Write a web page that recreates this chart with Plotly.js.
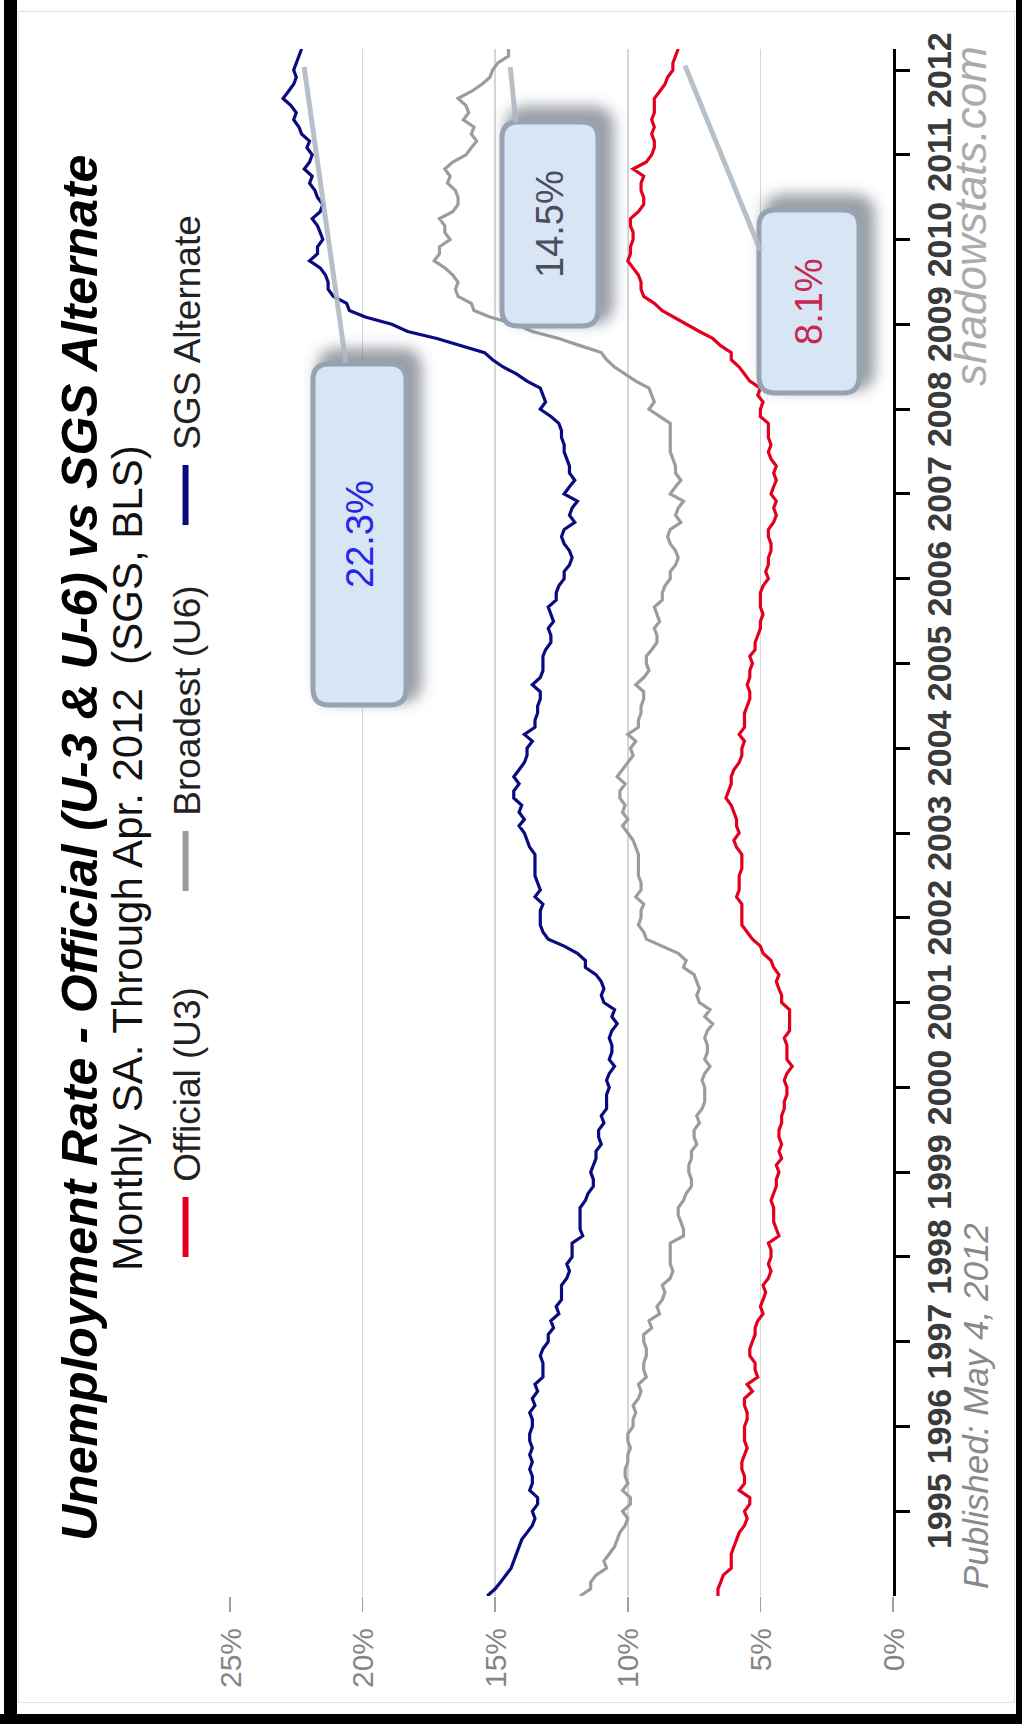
<!DOCTYPE html>
<html>
<head>
<meta charset="utf-8">
<script src="https://cdn.plot.ly/plotly-3.0.1.min.js"></script>
<style>
  html, body { margin: 0; padding: 0; background: #fff; }
  #page { position: relative; width: 1022px; height: 1724px; overflow: hidden; background: #fff; }
  #chart { position: absolute; left: 0; top: 0; width: 1724px; height: 1022px;
           transform-origin: 0 0; transform: translate(0px, 1724px) rotate(-90deg); }
  .frame { position: absolute; background: #000; }
  .inner { position: absolute; left: 18px; top: 11px; right: 7px; bottom: 21px; border: 1px solid #e2e2e2; pointer-events: none; }
</style>
</head>
<body>
<div id="page">
  <div id="chart"></div>
  <div class="inner"></div>
  <div class="frame" style="left:4px;top:0;width:13px;height:1724px"></div>
  <div class="frame" style="left:0;top:1714px;width:1022px;height:10px"></div>
  <div class="frame" style="left:1016px;top:0;width:6px;height:1724px"></div>
</div>
<script>
// monthly values, Jan 1994 .. Apr 2012
var u3 = [
  6.6, 6.6, 6.5, 6.4, 6.1, 6.1, 6.1, 6.0, 5.9, 5.8, 5.6, 5.5,
  5.6, 5.4, 5.4, 5.8, 5.6, 5.6, 5.7, 5.7, 5.6, 5.5, 5.6, 5.6,
  5.6, 5.5, 5.5, 5.6, 5.6, 5.3, 5.5, 5.1, 5.2, 5.2, 5.4, 5.4,
  5.3, 5.2, 5.2, 5.1, 4.9, 5.0, 4.9, 4.8, 4.9, 4.7, 4.6, 4.7,
  4.6, 4.6, 4.7, 4.3, 4.4, 4.5, 4.5, 4.5, 4.6, 4.5, 4.4, 4.4,
  4.3, 4.4, 4.2, 4.3, 4.2, 4.3, 4.3, 4.2, 4.2, 4.1, 4.1, 4.0,
  4.0, 4.1, 4.0, 3.8, 4.0, 4.0, 4.0, 4.1, 3.9, 3.9, 3.9, 3.9,
  4.2, 4.2, 4.3, 4.4, 4.3, 4.5, 4.6, 4.9, 5.0, 5.3, 5.5, 5.7,
  5.7, 5.7, 5.7, 5.9, 5.8, 5.8, 5.8, 5.7, 5.7, 5.7, 5.9, 6.0,
  5.8, 5.9, 5.9, 6.0, 6.1, 6.3, 6.2, 6.1, 6.1, 6.0, 5.8, 5.7,
  5.7, 5.6, 5.8, 5.6, 5.6, 5.6, 5.5, 5.4, 5.4, 5.5, 5.4, 5.4,
  5.3, 5.4, 5.2, 5.2, 5.1, 5.0, 5.0, 4.9, 5.0, 5.0, 5.0, 4.9,
  4.7, 4.8, 4.7, 4.7, 4.6, 4.6, 4.7, 4.7, 4.5, 4.4, 4.5, 4.4,
  4.6, 4.5, 4.4, 4.5, 4.4, 4.6, 4.7, 4.6, 4.7, 4.7, 4.7, 5.0,
  5.0, 4.9, 5.1, 5.0, 5.4, 5.6, 5.8, 6.1, 6.1, 6.5, 6.8, 7.3,
  7.8, 8.3, 8.7, 9.0, 9.4, 9.5, 9.5, 9.6, 9.8, 10.0, 9.9, 9.9,
  9.8, 9.8, 9.9, 9.9, 9.6, 9.4, 9.4, 9.5, 9.5, 9.4, 9.8, 9.3,
  9.1, 9.0, 9.0, 9.1, 9.0, 9.1, 9.0, 9.0, 9.0, 8.8, 8.6, 8.5,
  8.3, 8.3, 8.2, 8.1
];
var u6 = [
  11.8, 11.4, 11.4, 11.2, 10.8, 10.9, 10.7, 10.5, 10.4, 10.3, 10.1, 10.0,
  10.2, 9.9, 9.9, 10.2, 10.0, 10.1, 10.1, 10.0, 10.0, 9.9, 10.0, 10.0,
  9.8, 9.8, 9.7, 9.8, 9.6, 9.5, 9.6, 9.3, 9.4, 9.4, 9.3, 9.3,
  9.4, 9.4, 9.1, 9.2, 8.8, 8.9, 8.7, 8.6, 8.7, 8.4, 8.3, 8.4,
  8.4, 8.4, 8.4, 7.9, 7.9, 8.0, 8.1, 8.1, 7.9, 7.8, 7.6, 7.6,
  7.7, 7.7, 7.6, 7.6, 7.4, 7.5, 7.5, 7.3, 7.4, 7.2, 7.1, 7.1,
  7.1, 7.2, 7.1, 6.9, 7.1, 7.0, 7.0, 7.1, 7.0, 6.8, 7.1, 6.9,
  7.3, 7.4, 7.3, 7.4, 7.5, 7.9, 7.8, 8.1, 8.7, 9.3, 9.4, 9.6,
  9.5, 9.5, 9.4, 9.7, 9.5, 9.5, 9.6, 9.6, 9.6, 9.6, 9.7, 9.8,
  10.0, 10.2, 10.0, 10.2, 10.1, 10.3, 10.3, 10.1, 10.4, 10.2, 10.0, 9.8,
  9.9, 9.7, 10.0, 9.6, 9.6, 9.5, 9.5, 9.4, 9.4, 9.7, 9.4, 9.2,
  9.3, 9.3, 9.1, 8.9, 8.9, 9.0, 8.8, 8.9, 9.0, 8.7, 8.7, 8.6,
  8.4, 8.4, 8.2, 8.1, 8.2, 8.4, 8.5, 8.4, 8.0, 8.2, 8.1, 7.9,
  8.4, 8.2, 8.0, 8.2, 8.2, 8.3, 8.4, 8.4, 8.4, 8.4, 8.4, 8.8,
  9.2, 9.0, 9.1, 9.2, 9.7, 10.1, 10.5, 10.8, 11.0, 11.8, 12.6, 13.6,
  14.2, 15.2, 15.8, 15.9, 16.4, 16.5, 16.4, 16.6, 16.9, 17.3, 17.1, 17.1,
  16.7, 16.9, 16.9, 17.1, 16.6, 16.4, 16.4, 16.5, 16.8, 16.7, 16.9, 16.6,
  16.1, 15.9, 15.7, 15.9, 15.8, 16.2, 16.0, 16.1, 16.4, 15.9, 15.5, 15.2,
  15.1, 14.9, 14.5, 14.5
];
var sgs = [
  15.3, 15.0, 14.8, 14.6, 14.4, 14.3, 14.2, 14.1, 14.0, 13.8, 13.6, 13.5,
  13.6, 13.4, 13.4, 13.7, 13.6, 13.6, 13.7, 13.6, 13.7, 13.6, 13.7, 13.7,
  13.6, 13.6, 13.7, 13.5, 13.6, 13.4, 13.5, 13.2, 13.2, 13.2, 13.3, 13.2,
  13.0, 13.0, 12.8, 12.9, 12.6, 12.7, 12.5, 12.5, 12.5, 12.3, 12.2, 12.3,
  12.1, 12.1, 12.1, 11.7, 11.8, 11.8, 11.8, 11.8, 11.6, 11.5, 11.3, 11.3,
  11.4, 11.3, 11.2, 11.2, 11.0, 11.1, 11.1, 10.9, 11.0, 10.8, 10.8, 10.8,
  10.7, 10.8, 10.7, 10.5, 10.7, 10.6, 10.6, 10.7, 10.6, 10.4, 10.6, 10.5,
  10.9, 11.0, 10.9, 11.0, 11.2, 11.6, 11.6, 11.9, 12.4, 13.0, 13.2, 13.3,
  13.3, 13.3, 13.2, 13.5, 13.3, 13.4, 13.5, 13.5, 13.5, 13.5, 13.7, 13.8,
  13.9, 14.1, 13.9, 14.1, 14.0, 14.3, 14.3, 14.1, 14.3, 14.1, 13.9, 13.8,
  13.8, 13.6, 13.9, 13.5, 13.5, 13.4, 13.4, 13.3, 13.3, 13.6, 13.3, 13.2,
  13.2, 13.2, 13.1, 12.9, 12.9, 13.0, 12.8, 12.9, 13.0, 12.7, 12.7, 12.6,
  12.4, 12.4, 12.2, 12.1, 12.2, 12.4, 12.5, 12.4, 12.0, 12.2, 12.1, 11.9,
  12.4, 12.2, 12.0, 12.2, 12.2, 12.3, 12.4, 12.4, 12.5, 12.5, 12.6, 12.9,
  13.3, 13.1, 13.2, 13.3, 13.8, 14.2, 14.7, 15.1, 15.4, 16.3, 17.2, 18.3,
  18.9, 19.9, 20.5, 20.6, 21.1, 21.3, 21.3, 21.4, 21.6, 22.0, 21.7, 21.7,
  21.5, 21.6, 21.7, 21.9, 21.6, 21.5, 21.7, 21.8, 22.0, 21.9, 22.2, 22.0,
  21.9, 22.1, 22.0, 22.3, 22.4, 22.6, 22.5, 22.7, 23.0, 22.8, 22.6, 22.5,
  22.6, 22.5, 22.4, 22.3
];
var seriesNames = ['Official (U3)', 'Broadest (U6)', 'SGS Alternate'];
var seriesColors = ['#e3001f', '#9c9c9c', '#0a0a80'];
var tickYears = [1995, 1996, 1997, 1998, 1999, 2000, 2001, 2002, 2003,
                 2004, 2005, 2006, 2007, 2008, 2009, 2010, 2011, 2012];
var pctTicks = [0, 5, 10, 15, 20, 25];

// month dates for the series
var months = [];
for (var i = 0; i < u3.length; i++) {
  var y = 1994 + Math.floor(i / 12), m = (i % 12) + 1;
  months.push(y + '-' + (m < 10 ? '0' + m : m) + '-01');
}

var FONT = 'Liberation Sans, Arial, sans-serif';
// plot box in pixels (unrotated)
var L = 128, R = 1675, T = 230, B = 893;
function px(x) { return (x - L) / (R - L); }
function py(y) { return (B - y) / (B - T); }

function roundRect(x0, y0, x1, y1, r) {
  function X(v) { return px(v).toFixed(5); }
  function Y(v) { return py(v).toFixed(5); }
  return 'M' + X(x0 + r) + ',' + Y(y0) + ' L' + X(x1 - r) + ',' + Y(y0) +
    ' Q' + X(x1) + ',' + Y(y0) + ' ' + X(x1) + ',' + Y(y0 + r) +
    ' L' + X(x1) + ',' + Y(y1 - r) +
    ' Q' + X(x1) + ',' + Y(y1) + ' ' + X(x1 - r) + ',' + Y(y1) +
    ' L' + X(x0 + r) + ',' + Y(y1) +
    ' Q' + X(x0) + ',' + Y(y1) + ' ' + X(x0) + ',' + Y(y1 - r) +
    ' L' + X(x0) + ',' + Y(y0 + r) +
    ' Q' + X(x0) + ',' + Y(y0) + ' ' + X(x0 + r) + ',' + Y(y0) + ' Z';
}

var allSeries = [u3, u6, sgs];
var data = [];
allSeries.forEach(function (s, k) {
  data.push({ x: months, y: s, name: seriesNames[k], mode: 'lines', showlegend: false,
    line: { color: seriesColors[k], width: 3.2 } });
});
// legend keys (thicker swatches)
allSeries.forEach(function (s, k) {
  data.push({ x: [null], y: [null], name: '\u00a0' + seriesNames[k], mode: 'lines',
    line: { color: seriesColors[k], width: 6 } });
});

var last = months[months.length - 1];
var callouts = [
  { series: sgs, box: [1019, 313, 1360, 406], color: '#2626e6', base: [1360, 346] },
  { series: u6, box: [1398, 502, 1602, 598], color: '#4a4d5c', base: [1600, 516] },
  { series: u3, box: [1331, 759, 1514, 859], color: '#c8284f', base: [1472, 761] }
];

var shapes = [], annotations = [], blurIdx = [];
callouts.forEach(function (c) {
  var b = c.box;
  blurIdx.push(shapes.length);
  shapes.push({ type: 'path', xref: 'paper', yref: 'paper', layer: 'above',
    path: roundRect(b[0] + 2, b[1] + 4, b[2] + 16, b[3] + 16, 22),
    fillcolor: 'rgba(70,78,92,0.55)', line: { width: 0 } });
  shapes.push({ type: 'path', xref: 'paper', yref: 'paper', layer: 'above',
    path: roundRect(b[0], b[1], b[2], b[3], 16),
    fillcolor: '#d8e5f5', line: { color: '#98a3b1', width: 5 } });
  var v = c.series[c.series.length - 1];
  // pointer from series end to the box
  annotations.push({ x: last, y: v, xref: 'x', yref: 'y', text: '', showarrow: true,
    arrowhead: 0, arrowwidth: 5, arrowcolor: 'rgba(176,185,196,0.9)', standoff: 18,
    axref: 'pixel', ayref: 'pixel',
    ax: c.base[0] - R, ay: c.base[1] - (B - v * (B - T) / 25) });
  annotations.push({ xref: 'paper', yref: 'paper', x: px((b[0] + b[2]) / 2), y: py((b[1] + b[3]) / 2),
    xanchor: 'center', yanchor: 'middle', showarrow: false, text: v.toFixed(1) + '%',
    font: { family: FONT, size: 38, color: c.color } });
});

annotations.push(
  { xref: 'paper', yref: 'paper', x: px(876), y: py(80), xanchor: 'center', yanchor: 'middle', showarrow: false,
    text: 'Unemployment Rate - Official (U-3 & U-6) vs SGS Alternate',
    font: { family: FONT, size: 50, color: '#000', weight: 'bold', style: 'italic' } },
  { xref: 'paper', yref: 'paper', x: px(866), y: py(127), xanchor: 'center', yanchor: 'middle', showarrow: false,
    text: 'Monthly SA. Through Apr. 2012 \u00a0(SGS, BLS)',
    font: { family: FONT, size: 42, color: '#111' } },
  { xref: 'paper', yref: 'paper', x: px(133), y: py(975), xanchor: 'left', yanchor: 'middle', showarrow: false,
    text: 'Published: May 4, 2012',
    font: { family: FONT, size: 35, color: '#8a8a8a', style: 'italic' } },
  { xref: 'paper', yref: 'paper', x: px(1680), y: py(970), xanchor: 'right', yanchor: 'middle', showarrow: false,
    text: 'shadowstats.com',
    font: { family: FONT, size: 44, color: '#ababab', style: 'italic' } }
);

var layout = {
  width: 1724, height: 1022,
  margin: { l: L, r: 1724 - R, t: T, b: 1022 - B },
  paper_bgcolor: '#ffffff', plot_bgcolor: '#ffffff',
  showlegend: true,
  legend: { orientation: 'h', x: px(462), xanchor: 'left', y: py(186), yanchor: 'middle',
    font: { family: FONT, size: 37, color: '#222' }, entrywidth: 291, entrywidthmode: 'pixels',
    itemwidth: 60, bgcolor: 'rgba(0,0,0,0)', traceorder: 'normal' },
  xaxis: {
    type: 'date', range: ['1994-01-01', '2012-04-01'],
    tickvals: tickYears.map(function (y) { return y + '-01-01'; }),
    ticktext: tickYears.map(String),
    showgrid: false, zeroline: false,
    showline: true, linecolor: '#000', linewidth: 3,
    ticks: 'outside', ticklen: 14, tickwidth: 3, tickcolor: '#000',
    tickfont: { family: FONT, size: 34, color: '#3a3a3a', weight: 'bold' }
  },
  yaxis: {
    range: [0, 25], tickvals: pctTicks, ticktext: pctTicks.map(function (p) { return p + '%'; }),
    showgrid: true, gridcolor: '#d6d6d6', gridwidth: 1.5, zeroline: false, showline: false,
    ticks: 'outside', ticklen: 15, tickwidth: 1.5, tickcolor: '#a0a0a0', ticklabelstandoff: 10,
    tickfont: { family: FONT, size: 30, color: '#858585' }
  },
  shapes: shapes,
  annotations: annotations
};

var gd = document.getElementById('chart');
Plotly.newPlot(gd, data, layout, { staticPlot: true, displayModeBar: false }).then(function () {
  // soft drop shadow under the callout boxes
  var svg = gd.querySelector('svg.main-svg');
  var ns = 'http://www.w3.org/2000/svg';
  var defs = svg.querySelector('defs') || svg.insertBefore(document.createElementNS(ns, 'defs'), svg.firstChild);
  var f = document.createElementNS(ns, 'filter');
  f.setAttribute('id', 'boxblur');
  f.setAttribute('x', '-30%'); f.setAttribute('y', '-30%');
  f.setAttribute('width', '160%'); f.setAttribute('height', '160%');
  var g = document.createElementNS(ns, 'feGaussianBlur');
  g.setAttribute('stdDeviation', '7');
  f.appendChild(g);
  defs.appendChild(f);
  gd.querySelectorAll('.shapelayer path').forEach(function (p) {
    if (blurIdx.indexOf(+p.getAttribute('data-index')) >= 0) p.setAttribute('filter', 'url(#boxblur)');
  });
});
</script>
</body>
</html>
